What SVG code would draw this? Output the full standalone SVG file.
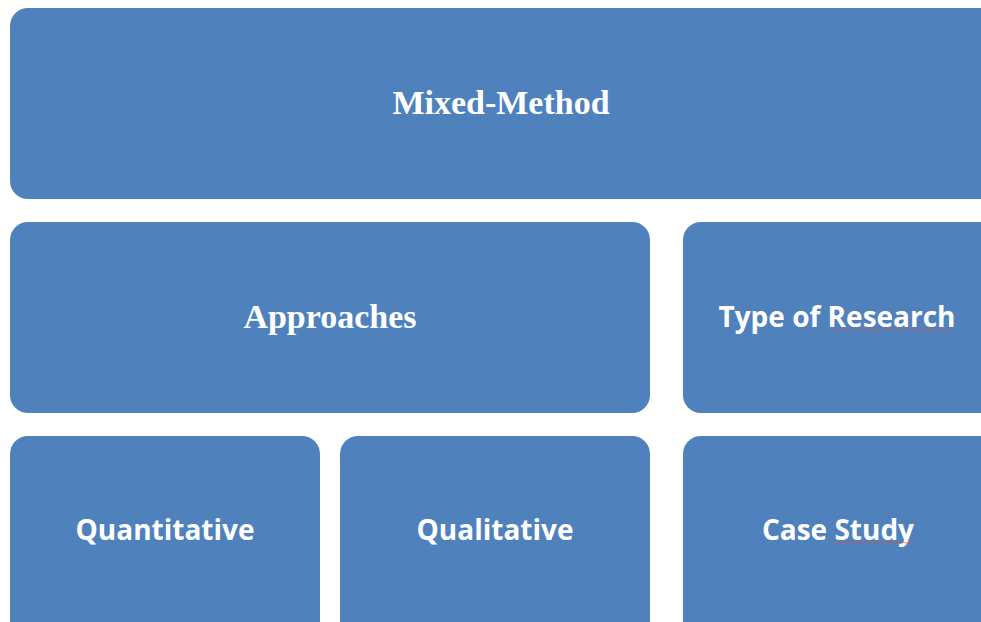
<svg xmlns="http://www.w3.org/2000/svg" width="981" height="622" viewBox="0 0 981 622">
<style>
.box{fill:#4F81BD;}
.serif{font-family:"Liberation Serif","Times New Roman",serif;font-weight:bold;font-size:34px;fill:#fff;text-anchor:middle;}
.sans{font-family:"Open Sans","Liberation Sans",sans-serif;font-weight:bold;font-size:28px;fill:#fff;text-anchor:middle;}
.sq{fill:none;stroke:#D9534F;stroke-width:1;opacity:0.7;}
</style>
<rect width="981" height="622" fill="#fff"/>
<g id="mixed-method">
<rect class="box" x="10" y="8" width="1000" height="191" rx="18"/>
<text class="serif" x="501" y="114">Mixed-Method</text>
</g>
<g id="approaches">
<rect class="box" x="10" y="222" width="640" height="191" rx="18"/>
<text class="serif" x="330" y="328">Approaches</text>
</g>
<g id="type-of-research">
<rect class="box" x="683" y="222" width="330" height="191" rx="18"/>
<text class="sans" x="837" y="327">Type of Research</text>
<path class="sq" d="M831 330 q2 1.2 4 0 t4 0 t4 0 t4 0 t4 0 t4 0 t4 0 t4 0 t4 0 t4 0 t4 0 t4 0 t4 0 t4 0 t4 0 t4 0 t4 0 t4 0 t4 0 t4 0 t4 0 t4 0 t4 0 t4 0 t4 0 t4 0 t4 0 t4 0 t4 0 t4 0"/>
</g>
<g id="quantitative">
<rect class="box" x="10" y="436" width="310" height="220" rx="18"/>
<text class="sans" x="165" y="540">Quantitative</text>
</g>
<g id="qualitative">
<rect class="box" x="340" y="436" width="310" height="220" rx="18"/>
<text class="sans" x="495" y="540">Qualitative</text>
</g>
<g id="case-study">
<rect class="box" x="683" y="436" width="330" height="220" rx="18"/>
<text class="sans" x="838" y="540">Case Study</text>
<path class="sq" d="M834 543 q2 1.2 4 0 t4 0 t4 0 t4 0 t4 0 t4 0 t4 0 t4 0 t4 0 t4 0 t4 0 t4 0 t4 0 t4 0 t4 0 t4 0 t4 0 t4 0 t4 0 t4 0"/>
</g>
<g id="connectors"></g>
</svg>
